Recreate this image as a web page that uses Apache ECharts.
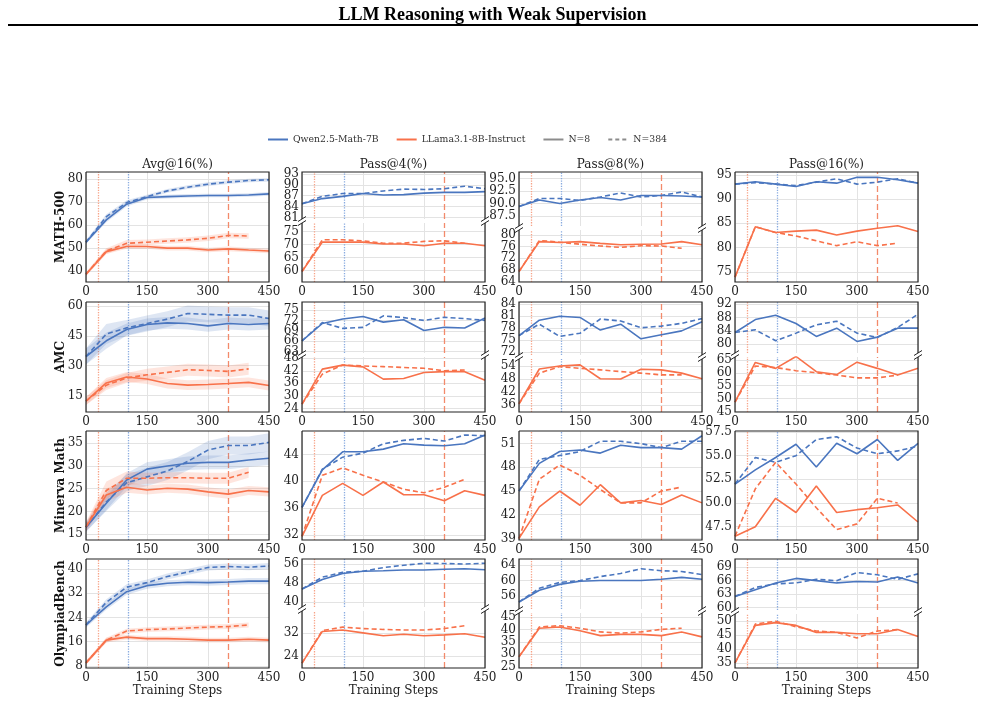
<!DOCTYPE html>
<html>
<head>
<meta charset="utf-8">
<script src="https://cdn.jsdelivr.net/npm/echarts@6/dist/echarts.min.js"></script>
<style>html,body{margin:0;padding:0;background:#fff}#chart{width:985px;height:703px}</style>
</head>
<body>
<div id="chart"></div>
<script>
// training steps shared by every panel
const steps = [0, 50, 100, 150, 200, 250, 300, 350, 400, 450];
const markerSteps = [30, 104, 350];
const xTicks = [0, 150, 300, 450];
const colNames = ['Avg@16(%)', 'Pass@4(%)', 'Pass@8(%)', 'Pass@16(%)'];
const legendNames = ['Qwen2.5-Math-7B', 'LLama3.1-8B-Instruct', 'N=8', 'N=384'];

// each block: [Qwen N=8, Qwen N=384, LLama N=8, LLama N=384]
const math500Avg = [
  [52.5, 62.2, 69.0, 71.9, 72.3, 72.6, 72.8, 72.8, 73.0, 73.5],
  [52.5, 63.6, 69.7, 72.3, 74.8, 76.4, 77.7, 78.6, 79.3, 79.6],
  [38.6, 48.4, 50.6, 50.6, 49.9, 49.9, 49.1, 49.6, 49.1, 48.7],
  [38.6, 48.7, 52.0, 52.5, 53.0, 53.5, 54.2, 55.4, 55.2]
];
const math500Spread = [
  [0.8, 1, 1, 0.8, 0.8, 0.8, 0.8, 0.8, 0.8, 0.8],
  [0.8, 1, 1, 0.8, 0.8, 0.8, 0.8, 0.8, 0.8, 0.8],
  [0.8, 1, 1, 1, 1, 1, 1, 1, 1, 1],
  [0.8, 1.2, 1.5, 1.2, 1.2, 1.2, 1.2, 1.2, 1.2]
];
const math500P4 = [
  [84.8, 86.2, 86.8, 87.6, 87.2, 87.3, 87.7, 87.9, 87.9, 88.1],
  [84.8, 86.8, 87.6, 87.6, 88.3, 88.8, 88.7, 88.9, 89.6, 88.9],
  [59.7, 70.9, 70.9, 70.9, 70.2, 70.2, 69.5, 70.5, 70.5, 69.5],
  [59.7, 71.8, 71.8, 71.4, 70.5, 70.5, 71.2, 71.4, 70.5]
];
const math500P8 = [
  [89.4, 90.7, 90.0, 90.7, 91.2, 90.7, 91.6, 91.6, 91.5, 91.3],
  [89.4, 91.0, 91.0, 90.6, 91.3, 92.1, 91.3, 91.6, 92.3, 91.3],
  [67.4, 77.7, 77.4, 77.7, 77.1, 76.6, 76.8, 76.9, 77.7, 76.6],
  [67.4, 78.1, 77.5, 76.8, 76.2, 75.7, 76.3, 76.2, 75.4]
];
const math500P16 = [
  [93.1, 93.6, 93.1, 92.6, 93.6, 93.3, 94.5, 94.5, 94.0, 93.3],
  [93.1, 93.4, 93.1, 92.8, 93.5, 94.2, 93.1, 93.5, 94.2, 93.3],
  [73.9, 84.3, 83.1, 83.4, 83.6, 82.6, 83.4, 84.0, 84.5, 83.3],
  [73.9, 84.3, 83.1, 82.4, 81.4, 80.4, 81.2, 80.4, 80.9]
];

const amcAvg = [
  [34.6, 42.5, 48.2, 50.7, 51.5, 51.2, 50.0, 51.2, 50.7, 51.2],
  [34.6, 45.9, 49.0, 51.2, 53.4, 56.2, 55.8, 55.4, 55.4, 53.7],
  [12.2, 21.3, 24.3, 23.3, 21.0, 20.2, 20.5, 21.0, 21.6, 20.0],
  [12.2, 20.2, 23.8, 25.4, 26.6, 27.9, 27.6, 27.1, 28.4]
];
const amcSpread = [
  [4, 4, 3, 3, 3, 3, 3, 3, 3, 3],
  [4, 5, 4, 4, 4, 4, 4, 4, 4, 4],
  [2, 2.5, 2.5, 2.5, 2.5, 2.5, 2.5, 2.5, 2.5, 2.5],
  [2, 2.5, 2.5, 3, 3, 3, 3, 3, 3]
];
const amcP4 = [
  [66.1, 71.1, 72.4, 73.1, 71.5, 72.2, 69.1, 70.0, 69.8, 72.7],
  [66.1, 71.4, 69.7, 70.0, 73.3, 72.8, 72.0, 72.9, 72.5, 72.0],
  [26.1, 42.8, 44.7, 43.9, 38.0, 38.3, 41.2, 41.6, 41.6, 37.5],
  [26.1, 40.4, 44.8, 44.3, 44.0, 43.6, 43.2, 42.0, 42.4]
];
const amcP8 = [
  [76.1, 80.0, 81.0, 80.7, 77.5, 79.0, 75.3, 76.3, 77.3, 79.6],
  [76.1, 79.0, 75.9, 76.7, 80.3, 79.8, 78.1, 78.5, 79.2, 80.4],
  [36.6, 52.6, 54.0, 54.5, 48.1, 48.0, 52.5, 52.2, 50.7, 48.1],
  [36.6, 50.7, 53.7, 52.9, 52.2, 51.4, 50.7, 49.9, 49.9]
];
const amcP16 = [
  [83.5, 87.4, 88.7, 86.2, 82.3, 84.8, 80.8, 82.1, 84.8, 84.8],
  [83.5, 84.3, 81.0, 83.3, 85.8, 86.9, 83.3, 82.0, 85.0, 89.0],
  [48.6, 64.0, 61.7, 66.3, 60.4, 59.3, 64.1, 61.7, 59.1, 61.7],
  [48.6, 62.6, 62.0, 60.8, 60.0, 59.1, 58.0, 58.0, 59.1]
];

const minervaAvg = [
  [16.5, 21.8, 26.9, 29.3, 30.0, 30.6, 30.8, 30.8, 31.3, 31.7],
  [16.5, 22.1, 26.3, 27.6, 28.9, 31.0, 33.5, 34.5, 34.5, 35.2],
  [16.6, 23.6, 25.3, 24.7, 25.1, 24.9, 24.3, 23.8, 24.6, 24.3],
  [16.6, 24.6, 27.3, 27.3, 27.4, 27.4, 27.3, 27.3, 28.6]
];
const minervaSpread = [
  [1, 1.5, 1.5, 1.5, 1.5, 1.5, 1.5, 1.5, 1.5, 1.5],
  [1, 2, 1.8, 2, 2, 2, 2, 2, 2, 2],
  [1, 1.5, 1.2, 1, 1, 1, 1, 1, 1, 1],
  [1, 2, 1.5, 1.2, 1.2, 1.2, 1.2, 1.2, 1.2]
];
const minervaP4 = [
  [36.1, 41.7, 44.4, 44.4, 44.8, 45.6, 45.4, 45.3, 45.6, 46.9],
  [36.1, 41.8, 43.6, 44.2, 45.6, 46.1, 46.4, 46.0, 46.9, 46.8],
  [31.8, 37.9, 39.7, 37.9, 39.9, 38.0, 38.0, 37.1, 38.6, 37.9],
  [31.8, 40.9, 42.0, 40.9, 39.9, 38.8, 38.3, 39.1, 40.3]
];
const minervaP8 = [
  [45.0, 48.5, 50.0, 50.2, 49.8, 50.8, 50.5, 50.5, 50.3, 52.0],
  [45.0, 49.0, 49.5, 50.0, 51.3, 51.3, 51.0, 50.5, 51.3, 51.3],
  [39.0, 43.0, 45.0, 43.2, 45.8, 43.5, 43.8, 43.3, 44.5, 43.5],
  [39.0, 46.5, 48.3, 47.0, 45.2, 43.5, 43.5, 45.0, 45.5]
];
const minervaP16 = [
  [52.0, 53.5, 54.8, 56.2, 53.8, 56.3, 55.2, 56.7, 54.5, 56.3],
  [52.0, 54.8, 54.3, 55.0, 56.7, 57.0, 55.8, 55.2, 55.5, 56.0],
  [46.5, 47.5, 50.5, 49.0, 51.8, 49.0, 49.3, 49.5, 49.8, 48.0],
  [46.5, 51.5, 54.3, 52.0, 49.5, 47.2, 47.8, 50.5, 50.0]
];

const olympiadAvg = [
  [21.5, 27.5, 32.5, 34.5, 35.3, 35.6, 35.5, 35.7, 36.0, 36.0],
  [21.5, 29.0, 34.0, 35.5, 37.5, 39.0, 40.5, 40.8, 40.6, 41.0],
  [9.0, 16.5, 17.5, 17.0, 17.0, 16.8, 16.5, 16.5, 16.8, 16.5],
  [9.0, 16.5, 19.5, 20.0, 20.2, 20.5, 20.8, 21.0, 21.5]
];
const olympiadSpread = [
  [0.8, 1, 1, 1, 1, 1, 1, 1, 1, 1],
  [0.8, 1, 1, 1, 1, 1, 1, 1, 1, 1],
  [0.6, 0.8, 0.8, 0.8, 0.8, 0.8, 0.8, 0.8, 0.8, 0.8],
  [0.6, 0.8, 0.8, 0.8, 0.8, 0.8, 0.8, 0.8, 0.8]
];
const olympiadP4 = [
  [45.5, 49.5, 52.0, 53.0, 53.2, 53.5, 53.5, 53.8, 54.0, 53.6],
  [45.5, 50.5, 52.5, 53.0, 54.5, 55.5, 56.3, 56.2, 56.0, 56.3],
  [21.5, 32.5, 33.0, 32.0, 31.0, 31.5, 31.0, 31.3, 31.7, 30.5],
  [21.5, 32.8, 34.0, 33.5, 33.2, 33.0, 33.0, 33.5, 34.5]
];
const olympiadP8 = [
  [54.5, 57.5, 59.0, 59.8, 60.0, 60.0, 60.0, 60.3, 60.8, 60.3],
  [54.5, 58.0, 59.5, 60.0, 61.0, 61.8, 63.0, 62.5, 62.3, 61.5],
  [29.0, 40.5, 41.0, 39.5, 37.5, 38.0, 38.0, 37.5, 39.0, 37.0],
  [29.0, 41.0, 41.5, 40.5, 39.0, 38.5, 39.0, 40.0, 40.5]
];
const olympiadP16 = [
  [62.5, 64.0, 65.5, 66.5, 66.0, 65.5, 65.8, 65.7, 66.8, 65.5],
  [62.5, 64.5, 65.3, 65.5, 66.3, 66.0, 67.8, 67.3, 66.3, 67.5],
  [35.0, 48.5, 49.5, 48.5, 46.0, 46.0, 45.5, 45.5, 47.0, 44.5],
  [35.0, 49.0, 50.0, 48.0, 46.5, 46.0, 44.0, 46.5, 47.0]
];

// y tick labels per column; a pair means a broken axis [upper, lower]
const math500Ticks = [[40, 50, 60, 70, 80], [[81, 84, 87, 90, 93], [60, 65, 70, 75]], [[87.5, 90, 92.5, 95], [64, 68, 72, 76, 80]], [75, 80, 85, 90, 95]];
const amcTicks = [[15, 30, 45, 60], [[63, 66, 69, 72, 75], [24, 30, 36, 42, 48]], [[72, 75, 78, 81, 84], [36, 42, 48, 54]], [[80, 84, 88, 92], [45, 50, 55, 60, 65]]];
const minervaTicks = [[15, 20, 25, 30, 35], [32, 36, 40, 44], [39, 42, 45, 48, 51], [47.5, 50, 52.5, 55, 57.5]];
const olympiadTicks = [[8, 16, 24, 32, 40], [[40, 48, 56], [24, 32]], [[56, 60, 64], [25, 30, 35, 40, 45]], [[60, 63, 66, 69], [35, 40, 45, 50]]];

const math500Limits = [[35.2, 83], [[80.6, 93.5], [55.7, 78.2]], [[85.5, 96.3], [63.8, 81.7]], [72.9, 95.6]];
const amcLimits = [[6.7, 62], [[62.6, 77.3], [22.3, 48.6]], [[71.2, 84.6], [32.8, 57.2]], [[77.3, 92.7], [44.8, 66.1]]];
const minervaLimits = [[13.7, 37.7], [31.25, 47.5], [38.8, 52.6], [46.1, 57.6]];
const olympiadLimits = [[7.3, 43.3], [[38, 58.1], [19.8, 39.6]], [[52.7, 65.5], [24.5, 46.6]], [[59.5, 70.8], [33.2, 52.6]]];

const rows = [
  { name: 'MATH-500', data: [math500Avg, math500P4, math500P8, math500P16], spread: math500Spread, ticks: math500Ticks, lim: math500Limits },
  { name: 'AMC', data: [amcAvg, amcP4, amcP8, amcP16], spread: amcSpread, ticks: amcTicks, lim: amcLimits },
  { name: 'Minerva Math', data: [minervaAvg, minervaP4, minervaP8, minervaP16], spread: minervaSpread, ticks: minervaTicks, lim: minervaLimits },
  { name: 'OlympiadBench', data: [olympiadAvg, olympiadP4, olympiadP8, olympiadP16], spread: olympiadSpread, ticks: olympiadTicks, lim: olympiadLimits }
];

// layout (px)
const colLeft = [86, 302, 519, 735];
const plotW = 183;
const rowTop = [172, 302, 431, 559];
const rowH = [110, 110, 109, 109];
// broken axes: [upper panel height, lower panel top offset]
const splits = { '0-1': [47, 51], '0-2': [54, 58], '1-1': [51, 55], '1-2': [53, 57], '1-3': [51, 55], '3-1': [48, 52], '3-2': [50, 54], '3-3': [51, 55] };

const FONT = 'DejaVu Serif';
const BLUE = '#4a76bf', ORANGE = '#f8714a', GRIDC = '#e3e3e3', INK = '#222';
const markerStyles = [
  { color: '#f7a286', type: 'dotted', width: 1.3 },
  { color: '#89abe0', type: 'dotted', width: 1.3 },
  { color: '#f38a6b', type: [6, 3], width: 1.3 }
];

const grids = [], xAxes = [], yAxes = [], series = [], graphics = [], yLabelSets = [];

function fmt(ticks) {
  const dec = ticks.some(t => !Number.isInteger(t)) ? 1 : 0;
  return v => Number(v).toFixed(dec);
}

function addGrid(x, y, w, h, lim, ticks, xLabels, xName) {
  const gi = grids.length;
  grids.push({ left: x, top: y, width: w, height: h });
  xAxes.push({
    gridIndex: gi, type: 'value', min: 0, max: 450, interval: 150,
    axisLine: { show: false }, axisTick: { show: false },
    axisLabel: { show: xLabels, color: INK, fontFamily: FONT, fontSize: 12, margin: 4 },
    splitLine: { show: true, lineStyle: { color: GRIDC } },
    name: xName || '', nameLocation: 'middle', nameGap: 16,
    nameTextStyle: { color: INK, fontFamily: FONT, fontSize: 12 }
  });
  // gridlines follow the tick values; labels are placed afterwards from the same scale
  yAxes.push({
    gridIndex: gi, type: 'value', min: lim[0], max: lim[1],
    axisLine: { show: false }, axisTick: { show: false, customValues: ticks },
    axisLabel: { show: false, customValues: ticks },
    splitLine: { show: true, lineStyle: { color: GRIDC } }
  });
  yLabelSets.push({ gi: gi, x: x, ticks: ticks.filter(t => t >= lim[0] && t <= lim[1]) });
  series.push({
    type: 'line', xAxisIndex: gi, yAxisIndex: gi, data: [], silent: true, z: 1,
    markLine: {
      symbol: 'none', silent: true, animation: false, z: 1, label: { show: false },
      data: markerSteps.map((s, k) => ({ xAxis: s, lineStyle: markerStyles[k] }))
    }
  });
  return gi;
}

function addLine(gi, vals, color, dashed) {
  series.push({
    type: 'line', xAxisIndex: gi, yAxisIndex: gi, symbol: 'none', silent: true, z: 4,
    data: vals.map((v, i) => [steps[i], v]),
    lineStyle: { color: color, width: 1.6, type: dashed ? [5, 3] : 'solid' }
  });
}

// shaded spread around a curve, drawn through the axes
function addBand(gi, vals, spr, color) {
  series.push({
    type: 'custom', xAxisIndex: gi, yAxisIndex: gi, silent: true, z: 2,
    data: [[steps[0], vals[0]]],
    renderItem: (params, api) => {
      const hi = vals.map((v, i) => api.coord([steps[i], v + spr[i]]));
      const lo = vals.map((v, i) => api.coord([steps[i], v - spr[i]])).reverse();
      return { type: 'polygon', shape: { points: hi.concat(lo) }, style: { fill: color, opacity: 0.18 } };
    }
  });
}

function frame(points) {
  graphics.push({ type: 'polyline', shape: { points: points }, style: { stroke: INK, lineWidth: 1.2, fill: null }, z: 100, silent: true });
}
function breakMark(x, y) {
  graphics.push({ type: 'line', shape: { x1: x - 4, y1: y + 2.5, x2: x + 4, y2: y - 2.5 }, style: { stroke: INK, lineWidth: 1 }, z: 100, silent: true });
}

const colors = [BLUE, BLUE, ORANGE, ORANGE];
const dashes = [false, true, false, true];

rows.forEach((row, r) => {
  const top = rowTop[r], h = rowH[r], bottom = top + h;
  const last = r === rows.length - 1;
  graphics.push({
    type: 'text', x: 61, y: top + h / 2, rotation: Math.PI / 2, silent: true,
    style: { text: row.name, fontFamily: FONT, fontWeight: 'bold', fontSize: 12, fill: '#111', align: 'center', verticalAlign: 'middle' }
  });
  for (let c = 0; c < 4; c++) {
    const x = colLeft[c], x2 = x + plotW;
    const d = row.data[c];
    const xName = last ? 'Training Steps' : '';
    if (r === 0) {
      graphics.push({
        type: 'text', x: x + plotW / 2, y: top - 7, silent: true,
        style: { text: colNames[c], fontFamily: FONT, fontSize: 12, fill: INK, align: 'center', verticalAlign: 'middle' }
      });
    }
    const sp = splits[r + '-' + c];
    if (!sp) {
      const gi = addGrid(x, top, plotW, h, row.lim[c], row.ticks[c], true, xName);
      if (c === 0) {
        for (let k = 0; k < 4; k++) addBand(gi, d[k], row.spread[k], colors[k]);
      }
      for (let k = 0; k < 4; k++) addLine(gi, d[k], colors[k], dashes[k]);
      frame([[x, top], [x2, top], [x2, bottom], [x, bottom], [x, top]]);
    } else {
      const upB = top + sp[0], loT = top + sp[1];
      const gu = addGrid(x, top, plotW, sp[0], row.lim[c][0], row.ticks[c][0], false, '');
      const gl = addGrid(x, loT, plotW, bottom - loT, row.lim[c][1], row.ticks[c][1], true, xName);
      addLine(gu, d[0], BLUE, false);
      addLine(gu, d[1], BLUE, true);
      addLine(gl, d[2], ORANGE, false);
      addLine(gl, d[3], ORANGE, true);
      frame([[x, upB], [x, top], [x2, top], [x2, upB]]);
      frame([[x, loT], [x, bottom], [x2, bottom], [x2, loT]]);
      [x, x2].forEach(px => { breakMark(px, upB); breakMark(px, loT); });
    }
  }
});

// legend-only series
const legendStyles = [
  { color: BLUE, type: 'solid' }, { color: ORANGE, type: 'solid' },
  { color: '#8c8c8c', type: 'solid' }, { color: '#8c8c8c', type: [4, 3] }
];
legendNames.forEach((n, k) => {
  series.push({
    name: n, type: 'line', xAxisIndex: 0, yAxisIndex: 0, data: [], symbol: 'none',
    itemStyle: { color: legendStyles[k].color },
    lineStyle: { color: legendStyles[k].color, width: 1.6, type: legendStyles[k].type }
  });
});

graphics.push({ type: 'line', shape: { x1: 8, y1: 25, x2: 978, y2: 25 }, style: { stroke: '#000', lineWidth: 2 }, silent: true });

const chart = echarts.init(document.getElementById('chart'), null, { renderer: 'canvas' });
chart.setOption({
  animation: false,
  backgroundColor: '#fff',
  title: {
    text: 'LLM Reasoning with Weak Supervision', left: 'center', top: 1,
    textStyle: { fontFamily: 'Liberation Serif', fontWeight: 'bold', fontSize: 18, color: '#000' }
  },
  legend: {
    data: legendNames, left: 262, top: 130, itemWidth: 20, itemHeight: 10, itemGap: 17,
    selectedMode: false, itemStyle: { opacity: 0 },
    textStyle: { fontFamily: FONT, fontSize: 9.3, color: '#333' }
  },
  grid: grids,
  xAxis: xAxes,
  yAxis: yAxes,
  series: series
});

// y tick labels: every value shown, positioned with the axis scale
yLabelSets.forEach(set => {
  const f = fmt(set.ticks);
  set.ticks.forEach(t => {
    const py = chart.convertToPixel({ yAxisIndex: set.gi }, t);
    graphics.push({
      type: 'text', x: set.x - 3, y: py, silent: true, z: 50,
      style: { text: f(t), fontFamily: FONT, fontSize: 12, fill: INK, align: 'right', verticalAlign: 'middle' }
    });
  });
});
chart.setOption({ graphic: graphics });
</script>
</body>
</html>
